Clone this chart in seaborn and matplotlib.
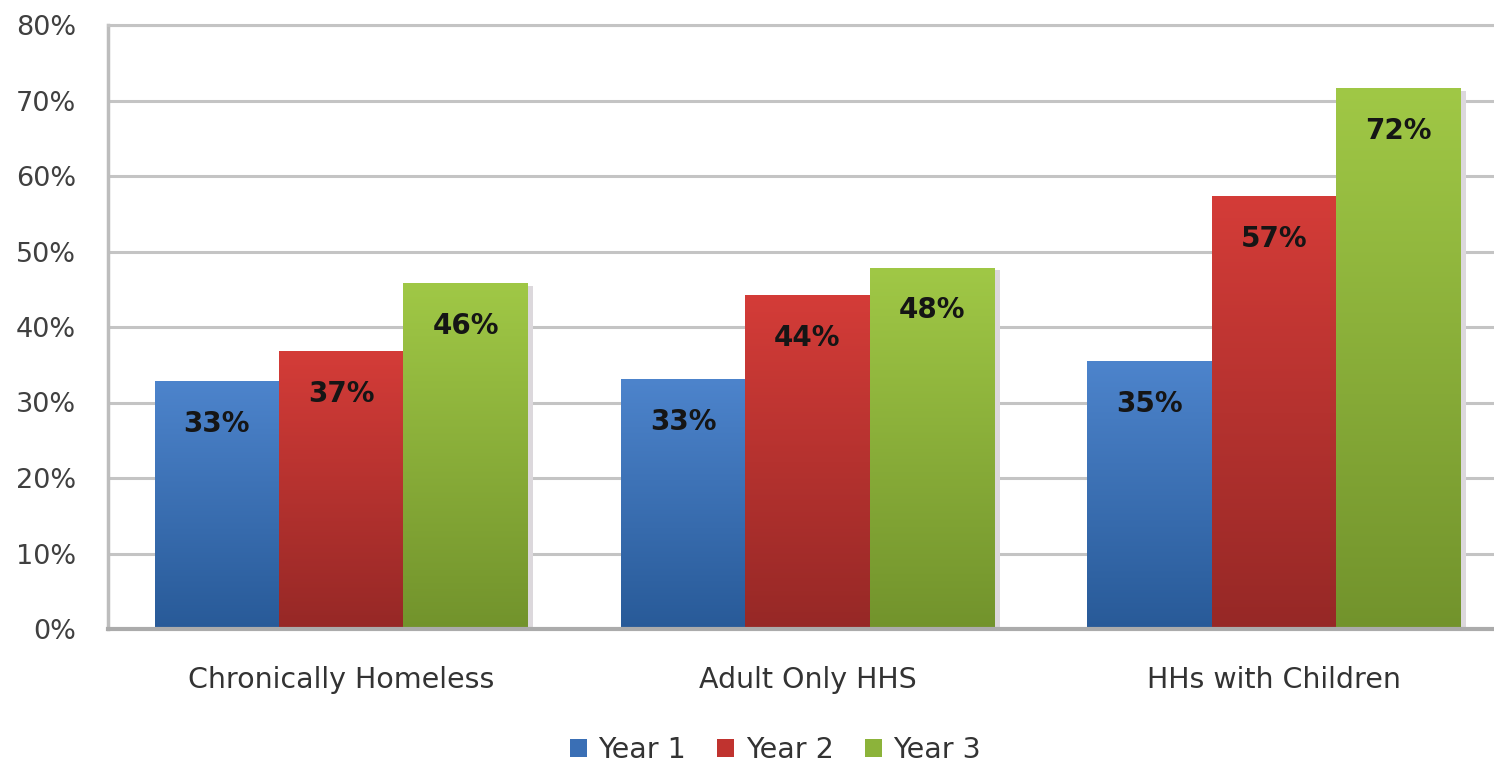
import numpy as np
import pandas as pd
import matplotlib
matplotlib.use("Agg")
import matplotlib.pyplot as plt
from matplotlib.colors import LinearSegmentedColormap
from matplotlib.patches import Patch
import seaborn as sns

categories = ["Chronically Homeless", "Adult Only HHS", "HHs with Children"]
series = ["Year 1", "Year 2", "Year 3"]
year1 = [32.8, 33.0, 35.4]
year2 = [36.7, 44.2, 57.3]
year3 = [45.7, 47.8, 71.6]
yticks = [0, 10, 20, 30, 40, 50, 60, 70, 80]

top_colors = ["#4d84cc", "#d43c38", "#a0c846"]
bot_colors = ["#285a98", "#962826", "#72932c"]
mid_colors = ["#3a6fb5", "#c0332f", "#8cb33a"]

rows = []
for s, vals in zip(series, [year1, year2, year3]):
    for c, v in zip(categories, vals):
        rows.append({"category": c, "series": s, "value": v})
df = pd.DataFrame(rows)

sns.set_style("white")
plt.rcParams["font.family"] = ["DejaVu Sans"]

fig = plt.figure(figsize=(14.94, 7.62), dpi=100)
ax = fig.add_axes([108 / 1494, (762 - 629) / 762, (1507 - 108) / 1494, (629 - 25) / 762])

sns.barplot(data=df, x="category", y="value", hue="series", order=categories,
            hue_order=series, palette=mid_colors, saturation=1, width=0.8, gap=0, ax=ax,
            edgecolor="none", linewidth=0, legend=False, zorder=3)

ax.set_xlim(-0.5, 2.5)
ax.set_ylim(0, 80)

for i, cont in enumerate(ax.containers):
    cmap = LinearSegmentedColormap.from_list("g%d" % i, [bot_colors[i], top_colors[i]])
    for bar in cont:
        x0, y0, w, h = bar.get_x(), bar.get_y(), bar.get_width(), bar.get_height()
        ax.add_patch(plt.Rectangle((x0 + 0.012, y0), w, h - 0.3, facecolor="#dcd8dc",
                                   edgecolor="none", zorder=2.5, clip_on=False))
        grad = np.linspace(0, 1, 256).reshape(-1, 1)
        ax.imshow(grad, extent=[x0, x0 + w, y0, y0 + h], aspect="auto", cmap=cmap,
                  origin="lower", zorder=3.1, interpolation="bicubic")
        bar.set_alpha(0)
        ax.text(x0 + w / 2, h - 5.6, "%d%%" % round(h), ha="center", va="center",
                fontsize=20, fontweight="bold", color="#151515", zorder=5)

ax.set_xlim(-0.5, 2.5)
ax.set_ylim(0, 80)
ax.set_yticks(yticks)
ax.set_yticklabels(["%d%%" % t for t in yticks])
ax.tick_params(axis="y", length=0, pad=23, labelsize=19.5, labelcolor="#404040")
ax.tick_params(axis="x", length=0, pad=27, labelsize=20.5, labelcolor="#333333")
ax.set_xlabel("")
ax.set_ylabel("")
ax.yaxis.grid(True, color="#c4c4c4", linewidth=2.2, zorder=0)
ax.set_axisbelow(True)

ax.spines["right"].set_visible(False)
ax.spines["top"].set_color("#c4c4c4")
ax.spines["top"].set_linewidth(2.2)
ax.spines["left"].set_color("#bdbdbd")
ax.spines["left"].set_linewidth(2.5)
ax.spines["bottom"].set_color("#ababab")
ax.spines["bottom"].set_linewidth(3)
ax.spines["bottom"].set_zorder(4)

handles = [Patch(facecolor=c, edgecolor="none") for c in mid_colors]
leg = fig.legend(handles, series, loc="center", bbox_to_anchor=(0.519, 0.016), ncol=3,
                 frameon=False, fontsize=20.5, handlelength=0.6, handleheight=0.6,
                 handletextpad=0.4, columnspacing=1.1)
for t in leg.get_texts():
    t.set_color("#333333")

fig.savefig("out.png", dpi=100)
